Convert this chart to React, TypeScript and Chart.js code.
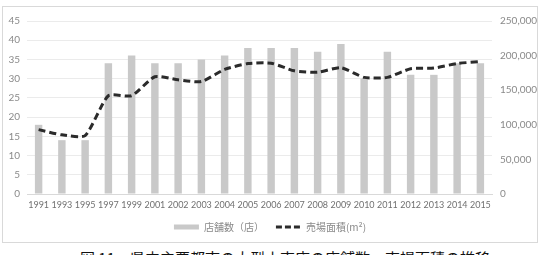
import React, { useEffect, useRef } from "react";
import { Chart, registerables } from "chart.js";

Chart.register(...registerables);

const years = ["1991","1993","1995","1997","1999","2001","2002","2003","2004","2005","2006","2007","2008","2009","2010","2011","2012","2013","2014","2015"];
const storeCounts = [18,14,14,34,36,34,34,35,36,38,38,38,37,39,30,37,31,31,34,34];
const floorArea = [93000,85500,84500,142000,142000,169500,165000,162500,180000,188500,189000,178000,176000,182500,168500,168500,181000,182000,188500,191500];
const leftTicks = [0,5,10,15,20,25,30,35,40,45];
const rightTicks = [0,50000,100000,150000,200000,250000];
const barLabel = "店舗数（店）";
const lineLabel = "売場面積(m²)";
const caption = "図 11　県内主要都市の大型小売店の店舗数・売場面積の推移";

const NUM_FONT = "Lato, 'Noto Sans', sans-serif";
const CJK_FONT = "'Noto Sans CJK JP', sans-serif";

export default function App() {
  const ref = useRef<HTMLCanvasElement | null>(null);
  useEffect(() => {
    if (!ref.current) return;
    const chart = new Chart(ref.current, {
      type: "bar",
      data: {
        labels: years,
        datasets: [
          {
            type: "bar",
            label: barLabel,
            data: storeCounts,
            backgroundColor: "#c9c9c9",
            borderWidth: 0,
            barPercentage: 0.32,
            categoryPercentage: 1,
            yAxisID: "y",
            order: 1,
          },
          {
            type: "line",
            label: lineLabel,
            data: floorArea,
            borderColor: "#2b2b2b",
            backgroundColor: "#2b2b2b",
            borderWidth: 3,
            borderDash: [7, 4],
            pointRadius: 0,
            tension: 0.2,
            fill: false,
            yAxisID: "y1",
            order: 0,
          } as any,
        ],
      },
      options: {
        animation: false,
        responsive: false,
        maintainAspectRatio: false,
        layout: { padding: { top: 11, bottom: 0, left: 0, right: 0 } },
        plugins: {
          tooltip: { enabled: false },
          legend: {
            position: "bottom",
            labels: {
              usePointStyle: true,
              pointStyleWidth: 25,
              boxHeight: 5,
              boxWidth: 25,
              padding: 12,
              color: "#8a8a8a",
              font: { family: CJK_FONT, size: 10 },
              generateLabels: () => [
                {
                  text: barLabel,
                  fillStyle: "#c9c9c9",
                  strokeStyle: "#c9c9c9",
                  lineWidth: 0,
                  pointStyle: "rect",
                  hidden: false,
                  datasetIndex: 0,
                  fontColor: "#8a8a8a",
                },
                {
                  text: lineLabel,
                  fillStyle: "#2b2b2b",
                  strokeStyle: "#2b2b2b",
                  lineWidth: 3,
                  lineDash: [6, 3],
                  pointStyle: "line",
                  hidden: false,
                  datasetIndex: 1,
                  fontColor: "#8a8a8a",
                },
              ] as any,
            },
          },
        },
        scales: {
          x: {
            grid: { display: false, drawTicks: false },
            border: { display: true, color: "#d9d9d9" },
            ticks: {
              autoSkip: false,
              maxRotation: 0,
              minRotation: 0,
              padding: 6,
              color: "#707070",
              font: { family: NUM_FONT, size: 9 },
            },
            afterFit: (s: any) => { s.height = 16; },
          },
          y: {
            position: "left",
            min: 0,
            max: 45,
            afterBuildTicks: (s: any) => { s.ticks = leftTicks.map((v) => ({ value: v })); },
            grid: { color: "#ebebeb", drawTicks: false },
            border: { display: false },
            ticks: {
              padding: 7,
              color: "#8a8a8a",
              font: { family: NUM_FONT, size: 10 },
            },
            afterFit: (s: any) => { s.width = 24; },
          },
          y1: {
            position: "right",
            min: 0,
            max: 250000,
            afterBuildTicks: (s: any) => { s.ticks = rightTicks.map((v) => ({ value: v })); },
            grid: { display: false, drawTicks: false },
            border: { display: false },
            ticks: {
              padding: 8,
              color: "#8a8a8a",
              font: { family: NUM_FONT, size: 10 },
              callback: (v: any) => Number(v).toLocaleString("en-US"),
            },
            afterFit: (s: any) => { s.width = 45; },
          },
        },
      },
    });
    return () => chart.destroy();
  }, []);

  return (
    <div style={{ position: "absolute", left: 0, top: 0, width: 543, height: 255, background: "#fff", overflow: "hidden" }}>
      <div style={{ position: "absolute", left: 2, top: 6, width: 536, height: 237, border: "1px solid #d9d9d9", boxSizing: "border-box" }}>
        <canvas ref={ref} width={534} height={235} style={{ display: "block", width: 534, height: 235 }} />
      </div>
      <div style={{ position: "absolute", left: 80, top: 248, lineHeight: "20px", whiteSpace: "nowrap", fontFamily: CJK_FONT, fontSize: 15, color: "#111" }}>
        {caption}
      </div>
    </div>
  );
}
